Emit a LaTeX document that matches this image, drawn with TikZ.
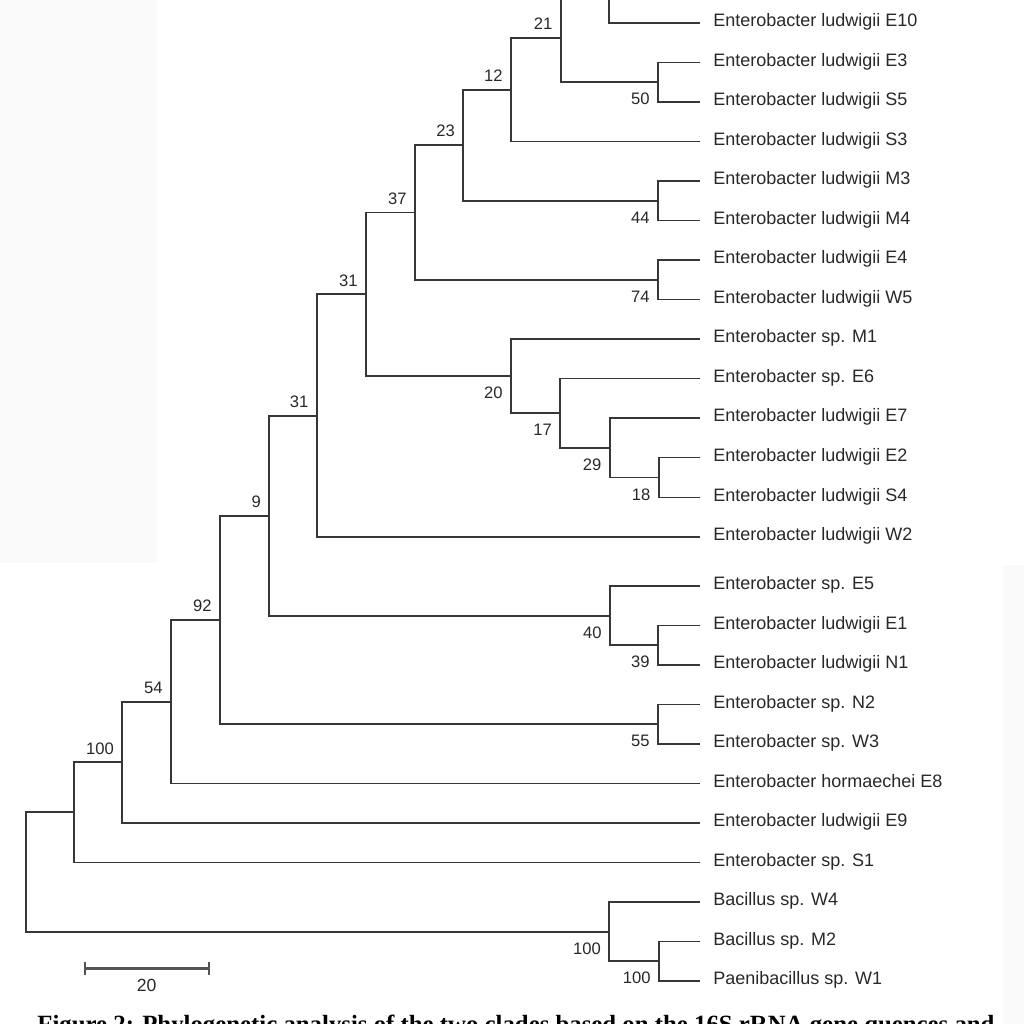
\documentclass[tikz,border=0pt]{standalone}
\usepackage{fontspec}
\setmainfont{Liberation Sans}
\newfontfamily\capfont{Liberation Serif}
\usepackage{xcolor}
\usepackage{tikz}

\definecolor{branch}{RGB}{55,55,55}
\definecolor{txt}{RGB}{40,40,40}
\definecolor{panel}{RGB}{249,249,250}

\begin{document}
\begin{tikzpicture}[x=0.5pt,y=-0.5pt,
	br/.style={draw=branch, line width=0.95pt},
	leaflab/.style={anchor=base west, inner sep=0pt, xshift=6.5pt, yshift=-1.75pt, text=txt, font=\fontsize{9}{10}\selectfont},
	bsup/.style={anchor=east, inner sep=0pt, xshift=-4pt, yshift=7pt, text=txt, font=\fontsize{8.3}{9}\selectfont},
	bsdown/.style={anchor=east, inner sep=0pt, xshift=-4pt, yshift=-8.5pt, text=txt, font=\fontsize{8.3}{9}\selectfont}]
				\useasboundingbox (0,0) rectangle (1024,1024);
				% screenshot panels
				\fill[panel] (0,0) rectangle (157,563);
				\fill[panel] (1003,565) rectangle (1024,1024);
				
				% internal nodes
				\foreach \n/\x/\y in
				{root/25.7/872, a/74.3/812.4, b100/122.3/762.35, c54/171/701.7,
				 d92/220/619.9, e9/269.3/515.6, f31/316.7/415.6, g31/366/294.3,
				 h37/415/212.5, i23/463.3/145.2, j12/511/89.65, k21/560.7/37.8,
				 m/609/-6.6, n50/658/82.25, o44/658/200.75, p74/658/279.75,
				 q20/511/376.05, r17/560.3/413.1, s29/609.7/447.75, t18/658.7/477.5,
				 u40/610/615.6, v39/658/645.25, w55/658/724.25,
				 x100/609.3/931.6, y100/659/961.25}{
					\coordinate (\n) at (\x,\y);
				}
				
				% leaves (top one is off the page)
				\coordinate (top0) at (700,-36);
				\foreach \n/\y/\t in
				{E10/23/Enterobacter ludwigii E10, E3/62.5/Enterobacter ludwigii E3,
				 S5/102/Enterobacter ludwigii S5, S3/141.5/Enterobacter ludwigii S3,
				 M3/181/Enterobacter ludwigii M3, M4/220.5/Enterobacter ludwigii M4,
				 E4/260/Enterobacter ludwigii E4, W5/299.5/Enterobacter ludwigii W5,
				 M1/339/Enterobacter sp. M1, E6/378.5/Enterobacter sp. E6,
				 E7/418/Enterobacter ludwigii E7, E2/457.5/Enterobacter ludwigii E2,
				 S4/497.5/Enterobacter ludwigii S4, W2/537/Enterobacter ludwigii W2,
				 E5/586/Enterobacter sp. E5, E1/625.5/Enterobacter ludwigii E1,
				 N1/665/Enterobacter ludwigii N1, N2/704.5/Enterobacter sp. N2,
				 W3/744/Enterobacter sp. W3, E8/783.5/Enterobacter hormaechei E8,
				 E9/823/Enterobacter ludwigii E9, S1/862.5/Enterobacter sp. S1,
				 W4/902/Bacillus sp. W4, M2/941.5/Bacillus sp. M2,
				 W1/981/Paenibacillus sp. W1}{
					\coordinate (\n) at (700,\y);
					\node[leaflab] (lab\n) at (\n) {\t};
				}
				
				% branches
				\foreach \p/\c in
				{root/a, root/x100, a/b100, a/S1, b100/c54, b100/E9, c54/d92, c54/E8,
				 d92/e9, d92/w55, e9/f31, e9/u40, f31/g31, f31/W2, g31/h37, g31/q20,
				 h37/i23, h37/p74, i23/j12, i23/o44, j12/k21, j12/S3, k21/m, k21/n50,
				 m/top0, m/E10, n50/E3, n50/S5, o44/M3, o44/M4, p74/E4, p74/W5,
				 q20/M1, q20/r17, r17/E6, r17/s29, s29/E7, s29/t18, t18/E2, t18/S4,
				 u40/E5, u40/v39, v39/E1, v39/N1, w55/N2, w55/W3,
				 x100/W4, x100/y100, y100/M2, y100/W1}{
					\draw[br] (\p) |- (\c);
				}
				
				% bootstrap values
				\foreach \n/\v in
				{b100/100, c54/54, d92/92, e9/9, f31/31, g31/31, h37/37, i23/23, j12/12, k21/21}{
					\node[bsup] (bs\n) at (\n) {\v};
				}
				\foreach \n/\v in
				{n50/50, o44/44, p74/74, q20/20, r17/17, s29/29, t18/18,
				 u40/40, v39/39, w55/55, x100/100, y100/100}{
					\node[bsdown] (bs\n) at (\n) {\v};
				}
				
				% scale bar
				\coordinate (sb0) at (85,968.3);
				\coordinate (sb1) at (209,968.3);
				\draw[draw=branch!85, line width=1.2pt] (sb0) -- (sb1);
				\draw[draw=branch!85, line width=1.1pt] ([yshift=3.3pt]sb0) -- ([yshift=-3.3pt]sb0);
				\draw[draw=branch!85, line width=1.1pt] ([yshift=3.3pt]sb1) -- ([yshift=-3.3pt]sb1);
				\node[text=txt, font=\fontsize{8.8}{10}\selectfont] (sblab) at (146.7,985) {20};
				
				% caption (cut by the page edge)
				\node[anchor=base west, inner sep=0pt, font=\capfont\bfseries\fontsize{12.4}{14}\selectfont] (caption) at (37,1032)
				{Figure 2: Phylogenetic analysis of the two clades based on the 16S rRNA gene quences and};
\end{tikzpicture}
\end{document}
